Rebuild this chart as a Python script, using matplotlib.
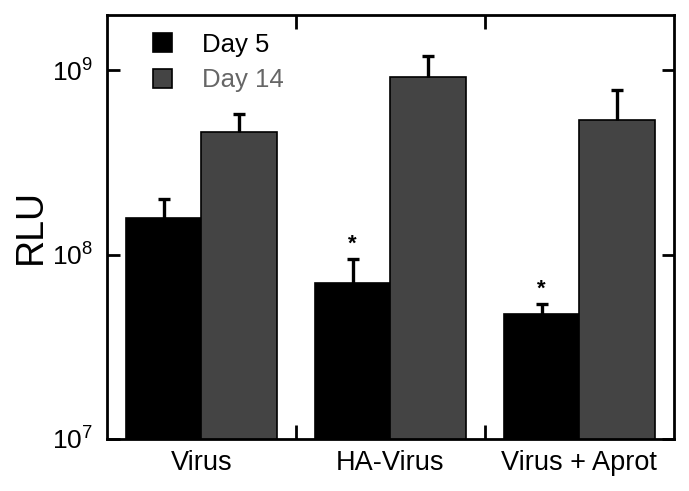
import matplotlib
matplotlib.use('Agg')
import matplotlib.pyplot as plt
import numpy as np

plt.rcParams['font.family'] = ['Liberation Sans', 'DejaVu Sans']
plt.rcParams['mathtext.fontset'] = 'custom'
plt.rcParams['mathtext.rm'] = 'Liberation Sans'
plt.rcParams['mathtext.it'] = 'Liberation Sans'

groups = ['Virus', 'HA-Virus', 'Virus + Aprot']
day5 = [1.58e8, 7.0e7, 4.74e7]
day5_err = [0.43e8, 2.5e7, 0.68e7]
day14 = [4.65e8, 9.25e8, 5.37e8]
day14_err = [1.18e8, 2.75e8, 2.47e8]
stars = [False, True, True]

fig = plt.figure(figsize=(6.89, 4.91), dpi=100)
ax = fig.add_axes([0.1553, 0.106, 0.8227, 0.8635])

x = np.arange(len(groups))
w = 0.4
err_kw = dict(elinewidth=2.4, capsize=4.3, capthick=2.4, ecolor='black')

b5 = ax.bar(x - w/2, day5, w, color='black', edgecolor='black', linewidth=1.2,
            label='Day 5', yerr=[np.zeros(3), day5_err], error_kw=err_kw, zorder=2)
b14 = ax.bar(x + w/2, day14, w, color='#444444', edgecolor='black', linewidth=1.2,
             label='Day 14', yerr=[np.zeros(3), day14_err], error_kw=err_kw, zorder=2)
# only the upper caps
for b in (b5, b14):
    caps = b.errorbar.lines[1]
    caps[0].set_visible(False)

for i in range(len(groups)):
    if stars[i]:
        top = day5[i] + day5_err[i]
        ax.text(x[i] - w/2, top * 1.05, '*', ha='center', va='bottom',
                fontsize=16, fontweight='bold')

ax.set_yscale('log')
ax.set_ylim(1e7, 2e9)
ax.set_xlim(-0.5, 2.5)

ax.set_xticks(x)
ax.set_xticklabels(groups, fontsize=19.5)
ax.set_xticks([0.5, 1.5], minor=True)
ax.tick_params(axis='x', which='major', length=0, pad=8)
ax.tick_params(axis='x', which='minor', direction='in', length=10, width=2,
               top=True, bottom=True)
ax.tick_params(axis='y', which='major', direction='in', length=9, width=2,
               left=True, right=True, labelsize=19, pad=10)
ax.tick_params(axis='y', which='minor', left=False, right=False)

for s in ax.spines.values():
    s.set_linewidth(2)

ax.set_ylabel('RLU', fontsize=27, labelpad=2)

leg = ax.legend(loc='upper left', bbox_to_anchor=(0.081, 0.958), frameon=False,
                fontsize=18.5, handlelength=0.75, handleheight=0.75,
                handletextpad=1.15, labelspacing=0.45, borderpad=0,
                borderaxespad=0)
leg.get_texts()[1].set_color('#666666')

fig.savefig('out.png', dpi=100)
